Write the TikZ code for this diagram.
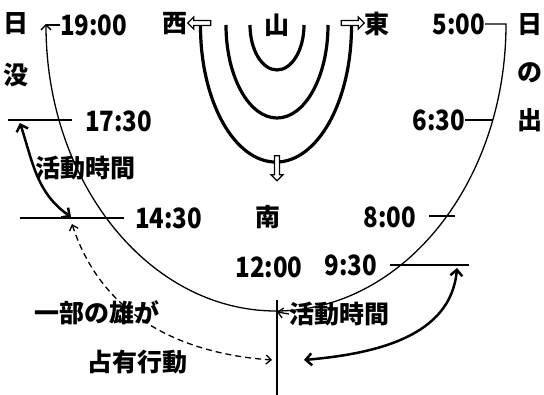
\documentclass[tikz,border=0pt]{standalone}
\usepackage{fontspec}
\newfontfamily\jp{Noto Sans CJK JP}
\newfontfamily\jpnum{Noto Sans CJK JP}[FakeStretch=0.86]
\usetikzlibrary{arrows.meta,shapes.arrows}

\begin{document}
\begin{tikzpicture}[x=1pt, y=-1pt,
    lbl/.style = {font=\jp\bfseries\fontsize{25}{25}\selectfont, inner sep=0pt},
    num/.style = {font=\jpnum\bfseries\fontsize{28}{28}\selectfont, inner sep=0pt},
    tick/.style = {line width=1.3pt},
    sun/.style = {line width=1.3pt},
    mtn/.style = {line width=3.2pt},
    hollow/.style = {single arrow, draw, fill=white, line width=1.2pt, inner sep=1.5pt,
        minimum height=23pt, minimum width=12pt, single arrow head extend=3pt},
    span/.style = {line width=2.5pt,
        {Straight Barb[length=6pt,width=12pt]}-{Straight Barb[length=6pt,width=12pt]}},
    claim/.style = {line width=1.3pt, dash pattern=on 6pt off 4pt,
        {Straight Barb[length=5pt,width=9pt]}-{Straight Barb[length=5pt,width=9pt]}}]
    \useasboundingbox (0,0) rectangle (544,395);

    % labels
    \node[lbl] (ri1) at (16,24) {日};
    \node[lbl] (bo) at (16,75) {没};
    \node[lbl] (ri2) at (530,25) {日};
    \node[lbl] (no) at (530,73) {の};
    \node[lbl] (de) at (530,120) {出};
    \node[lbl] (nishi) at (175,24) {西};
    \node[lbl] (yama) at (277,25) {山};
    \node[lbl] (higashi) at (377,24) {東};
    \node[lbl] (minami) at (268,217) {南};
    \node[num, anchor=west] (t1900) at (60,25) {19:00};
    \node[num, anchor=east] (t500) at (485,24) {5:00};
    \node[num, anchor=west] (t1730) at (85,121) {17:30};
    \node[num, anchor=east] (t630) at (465,120) {6:30};
    \node[num, anchor=west] (t1430) at (135,218) {14:30};
    \node[num] (t800) at (390,217) {8:00};
    \node[num, anchor=east] (t930) at (377,265) {9:30};
    \node[num] (t1200) at (269,267) {12:00};
    \node[lbl] (act1) at (85,168) {活動時間};
    \node[lbl, anchor=west] (act2) at (289,314) {活動時間};
    \node[lbl] (osu) at (97,313) {一部の雄が};
    \node[lbl] (sen) at (137,362) {占有行動};

    % mountain
    \draw[mtn] (250,25) arc[start angle=180, end angle=0, x radius=27, y radius=45];
    \draw[mtn] (226,25) arc[start angle=180, end angle=0, x radius=51, y radius=93];
    \node[hollow, rotate=180] (wa) at (200.5,23) {};
    \node[hollow] (ea) at (351.5,23) {};
    \draw[mtn] (wa.north) arc[start angle=180, end angle=0, x radius=75.5, y radius=136];
    \node[hollow, rotate=-90, minimum height=25pt] (sa) at (277,167) {};

    % sun path
    \coordinate (e5) at (506,24);
    \coordinate (w19) at (46,25);
    \draw[sun, -{Straight Barb[length=5pt,width=10pt]}] (t500.east) -- (e5)
        arc[start angle=0, end angle=180, x radius=230, y radius=287];
    \draw[tick] (w19) -- (t1900.west);

    % ticks
    \coordinate (a1730) at (8,120);
    \coordinate (b1730) at (72,120);
    \coordinate (e630) at (493,120);
    \coordinate (a1430) at (20,218);
    \coordinate (b1430) at (124,218);
    \coordinate (a800) at (429,216);
    \coordinate (b800) at (455,216);
    \coordinate (a930) at (390,265);
    \coordinate (b930) at (469,265);
    \draw[tick] (a1730) -- (b1730);
    \draw[tick] (t630.east) -- (e630);
    \draw[tick] (a1430) -- (b1430);
    \draw[tick] (a800) -- (b800);
    \draw[tick] (a930) -- (b930);

    % noon line
    \coordinate (n1) at (277,300);
    \coordinate (n2) at (277,395);
    \coordinate (n312) at (277,312);
    \draw[line width=1.5pt] (n1) -- (n2);
    \draw[sun, -{Straight Barb[length=5pt,width=10pt]}] (act2.west) -- (n312);

    % activity spans
    \coordinate (s1) at (20,123);
    \coordinate (s2) at (71,217);
    \coordinate (s3) at (457,268);
    \coordinate (s4) at (304,360);
    \coordinate (d1) at (72,224);
    \coordinate (d2) at (272,360);
    \draw[span] (s1) to[out=-72, in=145] (s2);
    \draw[span] (s3) to[out=-95, in=5] (s4);
    \draw[claim] (d1) to[out=-72, in=176] (d2);
\end{tikzpicture}
\end{document}
